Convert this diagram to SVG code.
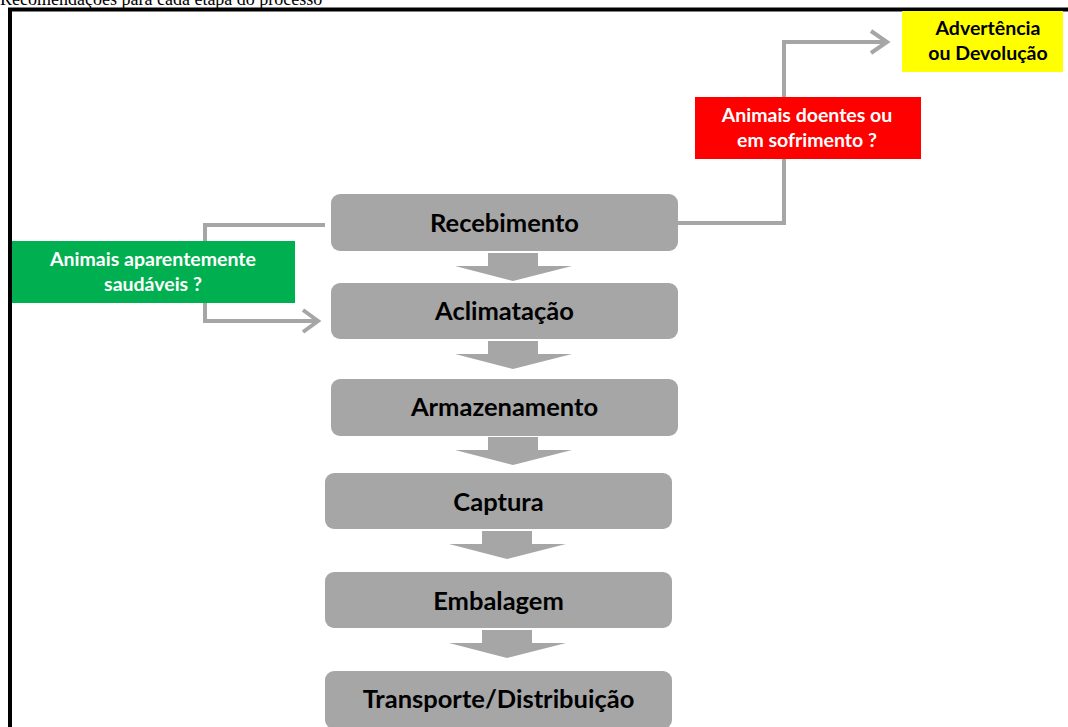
<svg xmlns="http://www.w3.org/2000/svg" xmlns:xlink="http://www.w3.org/1999/xlink" width="1068" height="727" viewBox="0 0 1068 727">
  <style>
    .step { fill: #a6a6a6; }
    .steplbl { font-family: Lato, "Open Sans", "Liberation Sans", sans-serif; font-weight: bold; font-size: 25.5px; fill: #000; text-anchor: middle; }
    .lbl { font-family: Lato, "Open Sans", "Liberation Sans", sans-serif; font-weight: bold; font-size: 19.5px; text-anchor: middle; }
    .conn { fill: none; stroke: #a6a6a6; stroke-width: 4; }
    .blk { fill: #a6a6a6; }
    .title { font-family: "Liberation Serif", "Times New Roman", serif; font-size: 18px; fill: #000; }
  </style>
  <defs>
    <path id="blockArrow" d="M -25 0 L 25 0 L 25 13 L 59 13 L 0 28 L -58 13 L -25 13 Z"/>
  </defs>
  <rect x="0" y="0" width="1068" height="727" fill="#ffffff"/>
  <text class="title" x="0" y="5">Recomendações para cada etapa do processo</text>
  <rect x="10" y="9.5" width="1070" height="740" fill="none" stroke="#000" stroke-width="4"/>

  <g id="connectors">
    <polyline class="conn" points="678,223 784,223 784,42 887,42"/>
    <polyline class="conn" points="871,31 887,42 871,53"/>
    <polyline class="conn" points="325,225 205,225 205,321 318,321"/>
    <polyline class="conn" points="303,310 318,321 303,332"/>
    <use xlink:href="#blockArrow" class="blk" transform="translate(513,253)"/>
    <use xlink:href="#blockArrow" class="blk" transform="translate(513,341)"/>
    <use xlink:href="#blockArrow" class="blk" transform="translate(513,437)"/>
    <use xlink:href="#blockArrow" class="blk" transform="translate(507,531)"/>
    <use xlink:href="#blockArrow" class="blk" transform="translate(507,630)"/>
  </g>

  <g id="advertencia">
    <rect x="902" y="11" width="161" height="61" fill="#ffff00"/>
    <text class="lbl" x="988" y="35" fill="#000">Advertência</text>
    <text class="lbl" x="988" y="60" fill="#000">ou Devolução</text>
  </g>
  <g id="doentes">
    <rect x="695" y="97" width="226" height="62" fill="#ff0000"/>
    <text class="lbl" x="807" y="122" fill="#fff">Animais doentes ou</text>
    <text class="lbl" x="807" y="147" fill="#fff">em sofrimento ?</text>
  </g>
  <g id="saudaveis">
    <rect x="12" y="241" width="283" height="62" fill="#00b050"/>
    <text class="lbl" x="153" y="266" fill="#fff">Animais aparentemente</text>
    <text class="lbl" x="153" y="291" fill="#fff">saudáveis ?</text>
  </g>

  <g id="recebimento">
    <rect class="step" x="331" y="194" width="347" height="57" rx="9"/>
    <text class="steplbl" x="504.5" y="232">Recebimento</text>
  </g>
  <g id="aclimatacao">
    <rect class="step" x="331" y="283" width="347" height="56" rx="9"/>
    <text class="steplbl" x="504.5" y="320">Aclimatação</text>
  </g>
  <g id="armazenamento">
    <rect class="step" x="331" y="379" width="347" height="57" rx="9"/>
    <text class="steplbl" x="504.5" y="416">Armazenamento</text>
  </g>
  <g id="captura">
    <rect class="step" x="325" y="473" width="347" height="56" rx="9"/>
    <text class="steplbl" x="498.5" y="511">Captura</text>
  </g>
  <g id="embalagem">
    <rect class="step" x="325" y="572" width="347" height="56" rx="9"/>
    <text class="steplbl" x="498.5" y="610">Embalagem</text>
  </g>
  <g id="transporte">
    <rect class="step" x="325" y="671" width="347" height="58" rx="9"/>
    <text class="steplbl" x="498.5" y="708">Transporte/Distribuição</text>
  </g>
</svg>
